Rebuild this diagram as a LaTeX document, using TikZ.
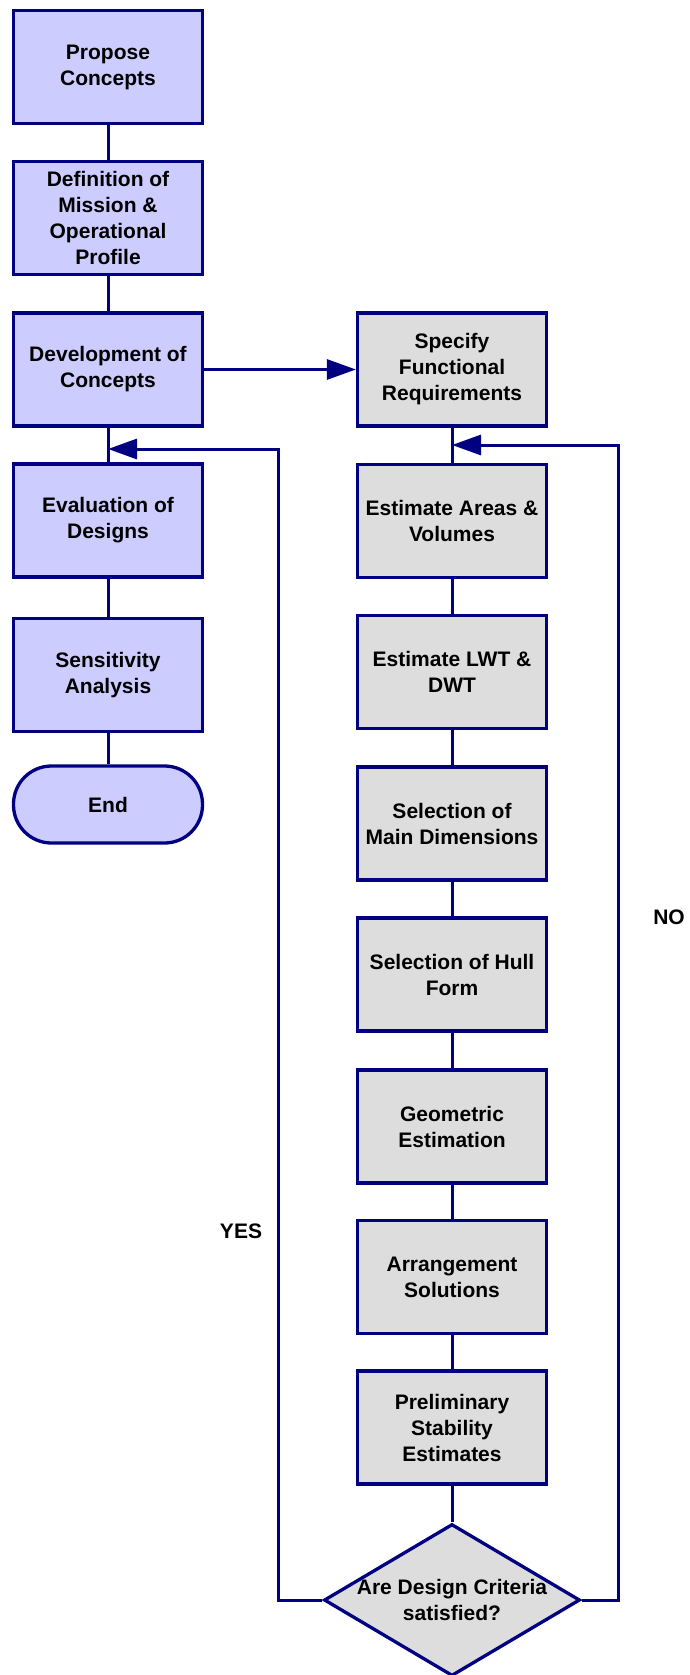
\documentclass[tikz,border=0pt]{standalone}
\usepackage{fontspec}
\setmainfont{Liberation Sans}
\usetikzlibrary{shapes.geometric,arrows.meta}
\definecolor{navy}{RGB}{0,0,128}
\definecolor{lav}{RGB}{204,204,255}
\definecolor{gry}{RGB}{221,221,221}
\begin{document}
\begin{tikzpicture}[x=1pt,y=-1pt,
 every node/.style={font=\bfseries\fontsize{21}{26}\selectfont, align=center, inner sep=0pt},
 lbox/.style={draw=navy, fill=lav, line width=3.3pt, minimum width=189pt, minimum height=113pt},
 rbox/.style={lbox, fill=gry},
 conn/.style={draw=navy, line width=3pt},
 arr/.style={conn, -{Triangle[length=29pt,width=20pt]}}
]
\useasboundingbox (0,0) rectangle (690,1675);

% left column
\node[lbox] (prop) at (108,67) {Propose\\Concepts};
\node[lbox] (def) at (108,218) {Definition of\\Mission \&\\Operational\\Profile};
\node[lbox] (dev) at (108,369.5) {Development of\\Concepts};
\node[lbox] (eval) at (108,520.5) {Evaluation of\\Designs};
\node[lbox] (sens) at (108,675) {Sensitivity\\Analysis};
\node[lbox, minimum height=77pt, rounded corners=38pt] (end) at (108,804.5) {End};

% right column
\node[rbox] (spec) at (452,369.5) {Specify\\Functional\\Requirements};
\node[rbox] (areas) at (452,521) {Estimate Areas \&\\Volumes};
\node[rbox] (lwt) at (452,672) {Estimate LWT \&\\DWT};
\node[rbox] (main) at (452,823.5) {Selection of\\Main Dimensions};
\node[rbox] (hull) at (452,974.5) {Selection of Hull\\Form};
\node[rbox] (geo) at (452,1126.5) {Geometric\\Estimation};
\node[rbox] (arrg) at (452,1277) {Arrangement\\Solutions};
\node[rbox] (prel) at (452,1427.5) {Preliminary\\Stability\\Estimates};
\node[diamond, draw=navy, fill=gry, line width=3.3pt, minimum width=256pt, minimum height=152pt, inner sep=0pt] (dia) at (452,1600) {};
\node (diat) at (dia.center) {Are Design Criteria\\satisfied?};

% labels
\node (yes) at (241,1231) {YES};
\node (no) at (669,917) {NO};

% connectors
\draw[conn] (prop) -- (def);
\draw[conn] (def) -- (dev);
\draw[conn] (dev) -- (eval);
\draw[conn] (eval) -- (sens);
\draw[conn] (sens) -- (end);
\draw[arr] (dev) -- (spec);
\draw[conn] (spec) -- (areas);
\draw[conn] (areas) -- (lwt);
\draw[conn] (lwt) -- (main);
\draw[conn] (main) -- (hull);
\draw[conn] (hull) -- (geo);
\draw[conn] (geo) -- (arrg);
\draw[conn] (arrg) -- (prel);
\draw[conn] (prel) -- (dia);

\coordinate (yl) at (278,449);
\coordinate (yesin) at (108,449);
\coordinate (yr) at (618,445);
\coordinate (noin) at (452,445);
\draw[arr] (dia.west) -| (yl) -- (yesin);
\draw[arr] (dia.east) -| (yr) -- (noin);
\end{tikzpicture}
\end{document}
